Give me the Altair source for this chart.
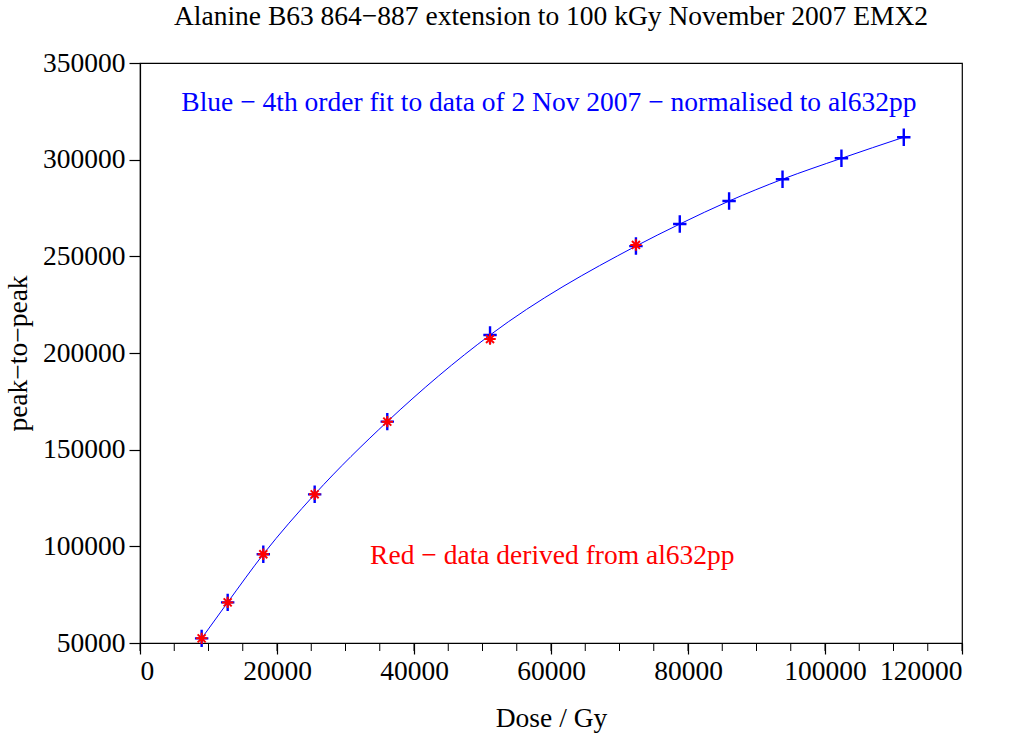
import altair as alt
import pandas as pd

# Data
dose_blue = [9000, 12800, 18000, 25500, 36100, 51100, 72400, 78800, 86000, 93800, 102400, 111500]
ptp_blue = [52400, 71000, 95900, 126900, 164500, 209300, 255300, 266700, 278600, 289900, 300700, 311600]
dose_red = [9000, 12800, 18000, 25500, 36100, 51100, 72400]
ptp_red = [52400, 71000, 95900, 126900, 164500, 207200, 255900]

x_ticks = [0, 20000, 40000, 60000, 80000, 100000, 120000]
x_minor = [v for v in range(0, 120001, 5000)]
y_ticks = [50000, 100000, 150000, 200000, 250000, 300000, 350000]

notes_text = ["Blue \u2212 4th order fit to data of 2 Nov 2007 \u2212 normalised to al632pp",
              "Red \u2212 data derived from al632pp"]
notes_x = [59700, 60200]
notes_y = [329300, 95000]
notes_color = ["#0000ff", "#ff0000"]

FONT = "Liberation Serif"
FS = 27.5

blue = pd.DataFrame({"dose": dose_blue, "ptp": ptp_blue})
red = pd.DataFrame({"dose": dose_red, "ptp": ptp_red})
minor = pd.DataFrame({"dose": x_minor})
notes = pd.DataFrame({"text": notes_text, "dose": notes_x, "ptp": notes_y, "color": notes_color})

xs = alt.Scale(domain=[0, 120000], nice=False, zero=False)
ys = alt.Scale(domain=[50000, 350000], nice=False, zero=False)

xaxis = alt.Axis(values=x_ticks, format="d", title="Dose / Gy", tickSize=11, labelPadding=3,
                 titlePadding=20, grid=False)
yaxis = alt.Axis(values=y_ticks, format="d", title="peak\u2212to\u2212peak", tickSize=11,
                 labelPadding=4, titlePadding=10, grid=False)

line = alt.Chart(blue).mark_line(color="#0000ff", strokeWidth=1, interpolate="monotone").encode(
    x=alt.X("dose:Q", scale=xs, axis=xaxis),
    y=alt.Y("ptp:Q", scale=ys, axis=yaxis),
)

plus_shape = "M-1,0H1M0,-1.3V1.3"
blue_pts = alt.Chart(blue).mark_point(shape=plus_shape, filled=False, color="#0000ff",
                                      strokeWidth=2.4, size=180, opacity=1).encode(
    x=alt.X("dose:Q", scale=xs), y=alt.Y("ptp:Q", scale=ys))

star_shape = "M-1,0H1M0,-1V1M-0.7,-0.7L0.7,0.7M-0.7,0.7L0.7,-0.7"
red_pts = alt.Chart(red).mark_point(shape=star_shape, filled=False, color="#ff0000",
                                    strokeWidth=2, size=130, opacity=1).encode(
    x=alt.X("dose:Q", scale=xs), y=alt.Y("ptp:Q", scale=ys))

minor_ticks = alt.Chart(minor).mark_rule(color="black", strokeWidth=1, clip=False).encode(
    x=alt.X("dose:Q", scale=xs), y=alt.value(580), y2=alt.value(588))

text = alt.Chart(notes).mark_text(font=FONT, fontSize=FS, align="center", baseline="middle").encode(
    x=alt.X("dose:Q", scale=xs), y=alt.Y("ptp:Q", scale=ys),
    text="text:N", color=alt.Color("color:N", scale=None))

chart = alt.layer(line, minor_ticks, blue_pts, red_pts, text).properties(
    width=822, height=580,
    title=alt.TitleParams("Alanine B63 864\u2212887 extension to 100 kGy November 2007 EMX2",
                          font=FONT, fontSize=FS, fontWeight="normal", color="black", offset=19),
    autosize=alt.AutoSizeParams(type="none"),
    padding={"left": 140, "top": 63, "right": 56, "bottom": 95},
    background="white",
).configure_view(stroke="black", strokeWidth=1.2).configure_axis(
    labelFont=FONT, titleFont=FONT, labelFontSize=FS, titleFontSize=FS,
    labelColor="black", titleColor="black", tickColor="black", domainColor="black",
    titleFontWeight="normal", domainWidth=1.2, tickWidth=1.2,
)

chart.save("out.html", embed_options={"renderer": "svg", "actions": False})
